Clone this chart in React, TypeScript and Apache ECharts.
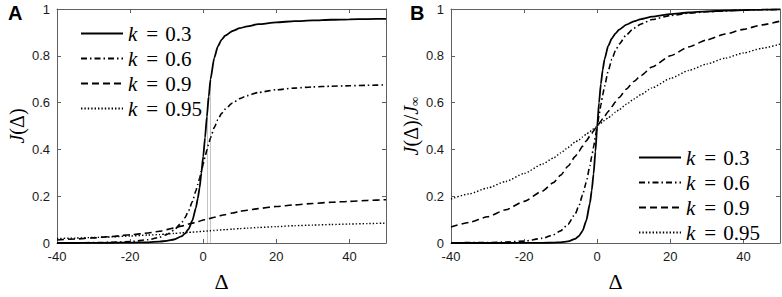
import React, { useEffect, useRef } from "react";
import * as echarts from "echarts";

// Δ sample positions (same grid for every curve)
const deltas = [-40, -35, -30, -25, -20, -15, -12, -10, -8, -6, -5, -4, -3, -2, -1.5, -1, -0.5, 0, 0.5, 1, 1.5, 2, 3, 4, 5, 6, 8, 10, 12, 15, 20, 25, 30, 35, 40, 45, 50];

const kLabels = ["0.3", "0.6", "0.9", "0.95"];

// Panel A: J(Δ)
const aK03 = [0, 0, 0.0005, 0.001, 0.0015, 0.003, 0.006, 0.009, 0.015, 0.028, 0.04, 0.06, 0.095, 0.15, 0.19, 0.235, 0.3, 0.37, 0.45, 0.54, 0.625, 0.7, 0.79, 0.84, 0.868, 0.886, 0.906, 0.918, 0.926, 0.935, 0.943, 0.948, 0.951, 0.954, 0.956, 0.957, 0.958];
const aK06 = [0.001, 0.001, 0.0015, 0.003, 0.006, 0.014, 0.024, 0.036, 0.055, 0.085, 0.108, 0.138, 0.176, 0.223, 0.25, 0.277, 0.307, 0.338, 0.368, 0.397, 0.425, 0.45, 0.493, 0.527, 0.553, 0.572, 0.598, 0.617, 0.63, 0.643, 0.655, 0.662, 0.667, 0.67, 0.672, 0.674, 0.676];
const aK09 = [0.013, 0.017, 0.022, 0.028, 0.035, 0.043, 0.05, 0.057, 0.064, 0.072, 0.076, 0.081, 0.085, 0.089, 0.091, 0.093, 0.096, 0.098, 0.1, 0.102, 0.104, 0.106, 0.11, 0.114, 0.118, 0.121, 0.128, 0.135, 0.14, 0.147, 0.156, 0.163, 0.169, 0.174, 0.178, 0.182, 0.185];
const aK095 = [0.019, 0.021, 0.0235, 0.026, 0.03, 0.034, 0.036, 0.0385, 0.041, 0.043, 0.044, 0.045, 0.0465, 0.0475, 0.048, 0.049, 0.0495, 0.05, 0.0505, 0.051, 0.052, 0.0525, 0.0535, 0.055, 0.056, 0.057, 0.059, 0.0615, 0.0635, 0.066, 0.07, 0.074, 0.0765, 0.079, 0.081, 0.083, 0.085];

// Panel B: J(Δ)/J∞
const bK03 = [0, 0, 0, 0, 0.0003, 0.0007, 0.0015, 0.003, 0.007, 0.018, 0.03, 0.052, 0.095, 0.17, 0.225, 0.295, 0.39, 0.5, 0.6, 0.68, 0.74, 0.785, 0.842, 0.874, 0.896, 0.912, 0.933, 0.947, 0.957, 0.967, 0.978, 0.985, 0.99, 0.993, 0.995, 0.997, 0.998];
const bK06 = [0.001, 0.0015, 0.002, 0.004, 0.008, 0.02, 0.035, 0.052, 0.08, 0.125, 0.16, 0.205, 0.26, 0.33, 0.37, 0.41, 0.455, 0.5, 0.546, 0.59, 0.632, 0.67, 0.735, 0.785, 0.822, 0.85, 0.89, 0.918, 0.936, 0.955, 0.972, 0.982, 0.988, 0.992, 0.995, 0.997, 0.998];
const bK09 = [0.068, 0.088, 0.112, 0.142, 0.178, 0.222, 0.258, 0.29, 0.328, 0.37, 0.392, 0.414, 0.436, 0.457, 0.468, 0.479, 0.49, 0.5, 0.51, 0.521, 0.531, 0.542, 0.562, 0.583, 0.603, 0.622, 0.658, 0.69, 0.716, 0.752, 0.8, 0.838, 0.868, 0.893, 0.913, 0.932, 0.948];
const bK095 = [0.188, 0.21, 0.235, 0.263, 0.297, 0.337, 0.363, 0.385, 0.408, 0.432, 0.441, 0.453, 0.465, 0.476, 0.482, 0.488, 0.494, 0.5, 0.506, 0.512, 0.518, 0.524, 0.535, 0.547, 0.559, 0.57, 0.593, 0.615, 0.635, 0.663, 0.703, 0.737, 0.765, 0.79, 0.812, 0.832, 0.85];

// faint grey vertical guide lines in panel A: [Δ, top]
const greyGuides = [
  [1.1, 0.62],
  [2.0, 0.7],
];

const styles = [
  { width: 1.8, type: "solid" as any },
  { width: 1.6, type: [6, 3, 1.5, 3] as any },
  { width: 1.6, type: [7, 4] as any },
  { width: 1.4, type: [1.4, 2] as any },
];

const SANS = "Liberation Sans";
const SERIF = "Liberation Serif";
const AXIS = "#606060";

export default function App() {
  const ref = useRef<HTMLDivElement>(null);
  useEffect(() => {
    if (!ref.current) return;
    const chart = echarts.init(ref.current, undefined, { renderer: "svg" });
    const names = kLabels.map((k) => "k = " + k);
    const pair = (ys: number[]) => deltas.map((d, i) => [d, ys[i]]);
    const aSets = [aK03, aK06, aK09, aK095];
    const bSets = [bK03, bK06, bK09, bK095];

    const grids = [
      { left: 57, right: 396, top: 9, bottom: 44 },
      { left: 451, right: 2, top: 9, bottom: 45 },
    ];

    const labelFmtY = (v: number) => (v === 0 ? "0" : v === 1 ? "1" : v.toFixed(1));

    const mkX = (gi: number, pos: "bottom" | "top") => ({
      type: "value",
      gridIndex: gi,
      position: pos,
      min: -40,
      max: 50,
      interval: 20,
      name: pos === "bottom" ? "Δ" : "",
      nameLocation: "middle",
      nameGap: 27,
      nameTextStyle: { fontFamily: SERIF, fontSize: 22, color: "#000" },
      axisLine: { show: true, onZero: false, lineStyle: { color: AXIS, width: 1 } },
      axisTick: { show: true, inside: true, length: 4, lineStyle: { color: AXIS } },
      axisLabel: {
        show: pos === "bottom",
        showMaxLabel: false,
        fontFamily: SANS,
        fontSize: 13,
        color: "#1a1a1a",
        margin: 7,
      },
      splitLine: { show: false },
    });

    const yNameRich = {
      i: { fontFamily: SERIF, fontStyle: "italic", fontSize: 20, color: "#000" },
      r: { fontFamily: SERIF, fontSize: 20, color: "#000" },
      s: { fontFamily: SERIF, fontSize: 13, color: "#000", verticalAlign: "bottom" },
    };

    const mkY = (gi: number, pos: "left" | "right", name: string) => ({
      type: "value",
      gridIndex: gi,
      position: pos,
      min: 0,
      max: 1,
      interval: 0.2,
      name: pos === "left" ? name : "",
      nameLocation: "middle",
      nameRotate: 90,
      nameGap: 30,
      nameTextStyle: { rich: yNameRich },
      axisLine: { show: true, onZero: false, lineStyle: { color: AXIS, width: 1 } },
      axisTick: { show: true, inside: true, length: 4, lineStyle: { color: AXIS } },
      axisLabel: {
        show: pos === "left",
        formatter: labelFmtY,
        fontFamily: SANS,
        fontSize: 13,
        color: "#1a1a1a",
        margin: 7,
      },
      splitLine: { show: false },
    });

    const mkSeries = (ys: number[], i: number, axis: number) => ({
      type: "line",
      name: names[i],
      xAxisIndex: axis,
      yAxisIndex: axis,
      data: pair(ys),
      showSymbol: false,
      symbol: "none",
      smooth: 0.2,
      smoothMonotone: "x",
      itemStyle: { color: "#000" },
      lineStyle: { color: "#000", width: styles[i].width, type: styles[i].type },
      z: 3,
    });

    const series: any[] = [];
    aSets.forEach((ys, i) => {
      const s: any = mkSeries(ys, i, 0);
      if (i === 0) {
        s.markLine = {
          silent: true,
          symbol: "none",
          label: { show: false },
          lineStyle: { color: "#c4c4c4", width: 1, type: "solid" },
          data: greyGuides.map(([x, top]) => [{ coord: [x, 0] }, { coord: [x, top] }]),
          z: 1,
        };
      }
      series.push(s);
    });
    bSets.forEach((ys, i) => series.push(mkSeries(ys, i, 2)));

    const legendText = {
      fontFamily: SERIF,
      fontSize: 21,
      lineHeight: 20,
      color: "#000",
      rich: {
        i: { fontFamily: SERIF, fontStyle: "italic", fontSize: 21, lineHeight: 20, color: "#000" },
        e: { fontFamily: SERIF, fontSize: 21, lineHeight: 20, color: "#000", padding: [0, 7, 0, 9] },
        r: { fontFamily: SERIF, fontSize: 21, lineHeight: 20, color: "#000" },
      },
    };
    const legendFmt = (n: string) => "{i|k}{e|=}{r|" + n.replace("k = ", "") + "}";

    const mkLegend = (left: number, top: number) => ({
      show: true,
      orient: "vertical",
      left,
      top,
      itemWidth: 42,
      itemHeight: 14,
      itemGap: 4,
      padding: 0,
      selectedMode: false,
      data: names,
      itemStyle: { opacity: 0 },
      formatter: legendFmt,
      textStyle: legendText,
      backgroundColor: "transparent",
    });

    chart.setOption({
      animation: false,
      backgroundColor: "#fff",
      title: [
        { text: "A", left: 3, top: -2, textStyle: { fontFamily: SANS, fontWeight: "bold", fontSize: 20, color: "#000" } },
        { text: "B", left: 405, top: -2, textStyle: { fontFamily: SANS, fontWeight: "bold", fontSize: 20, color: "#000" } },
      ],
      grid: grids,
      xAxis: [mkX(0, "bottom"), mkX(0, "top"), mkX(1, "bottom"), mkX(1, "top")],
      yAxis: [
        mkY(0, "left", "{i|J}{r|(Δ)}"),
        mkY(0, "right", ""),
        mkY(1, "left", "{i|J}{r|(Δ)/}{i|J}{s|∞}"),
        mkY(1, "right", ""),
      ],
      legend: [mkLegend(80, 23), mkLegend(638, 147)],
      series,
    } as any);
    return () => chart.dispose();
  }, []);
  return (
    <div
      ref={ref}
      style={{ position: "fixed", left: 0, top: 0, width: 782, height: 297, background: "#fff" }}
    />
  );
}
